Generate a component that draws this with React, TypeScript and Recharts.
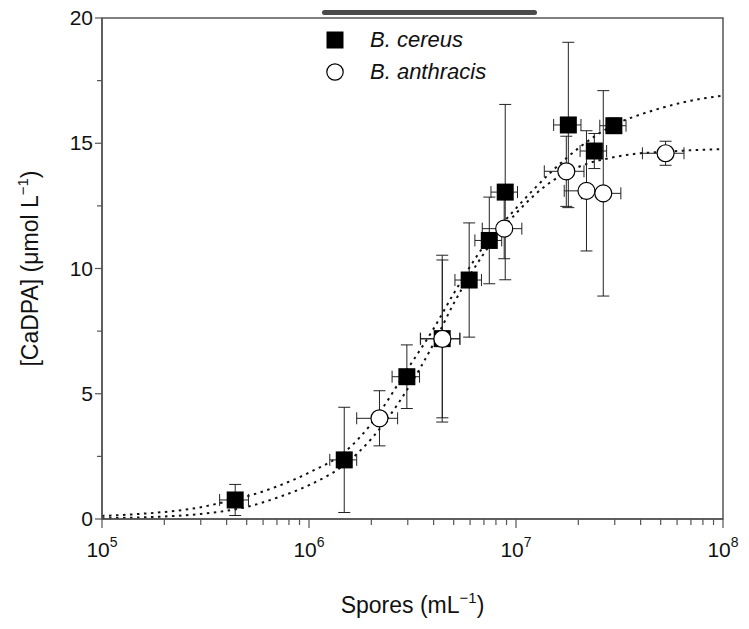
import React from 'react';
import {
  ComposedChart,
  Scatter,
  Line,
  XAxis,
  YAxis,
  ErrorBar,
  ReferenceArea,
  Legend,
} from 'recharts';

// B. cereus (filled squares)
const cereusX = [4.4e5, 1.48e6, 2.97e6, 4.4e6, 5.94e6, 7.43e6, 8.87e6, 1.79e7, 2.39e7, 2.97e7];
const cereusY = [0.76, 2.36, 5.68, 7.2, 9.54, 11.12, 13.05, 15.73, 14.69, 15.7];
const cereusXErr = [0.7e5, 0.22e6, 0.45e6, 0.95e6, 0.87e6, 1.1e6, 1.3e6, 0.27e7, 0.35e7, 0.43e7];
const cereusYErr = [0.62, 2.1, 1.27, 3.33, 2.28, 1.73, 3.5, 3.3, 0.7, 0.3];

// B. anthracis (open circles)
const anthracisX = [2.19e6, 4.41e6, 8.77e6, 1.75e7, 2.19e7, 2.64e7, 5.28e7];
const anthracisY = [4.02, 7.19, 11.59, 13.88, 13.1, 13.0, 14.6];
const anthracisXErr = [0.49e6, 0.95e6, 1.9e6, 0.38e7, 0.48e7, 0.57e7, 1.2e7];
const anthracisYErr = [1.1, 3.15, 1.2, 1.4, 2.4, 4.1, 0.48];

// fitted curves
const fitX = [
  1e5, 1.5e5, 2e5, 3e5, 4e5, 5e5, 7e5, 1e6, 1.5e6, 2e6, 3e6, 4e6, 5e6, 7e6, 1e7, 1.5e7, 2e7, 3e7,
  4e7, 5e7, 7e7, 1e8,
];
const cereusFit = [
  0.12, 0.2, 0.28, 0.47, 0.7, 0.9, 1.3, 1.85, 2.7, 3.8, 6.0, 7.6, 9.0, 10.9, 12.4, 13.9, 14.8,
  15.75, 16.15, 16.4, 16.7, 16.9,
];
const anthracisFit = [
  0.03, 0.06, 0.1, 0.2, 0.33, 0.48, 0.85, 1.35, 2.2, 3.2, 5.2, 7.0, 8.6, 10.6, 12.2, 13.5, 14.05,
  14.45, 14.6, 14.65, 14.72, 14.77,
];

const majorX = [1e5, 1e6, 1e7, 1e8];
const xTicks = [
  1e5, 2e5, 3e5, 4e5, 5e5, 6e5, 7e5, 8e5, 9e5, 1e6, 2e6, 3e6, 4e6, 5e6, 6e6, 7e6, 8e6, 9e6, 1e7,
  2e7, 3e7, 4e7, 5e7, 6e7, 7e7, 8e7, 9e7, 1e8,
];
const yTicks = [0, 2.5, 5, 7.5, 10, 12.5, 15, 17.5, 20];

const cereusData = cereusX.map((x, i) => ({ x, y: cereusY[i], ex: cereusXErr[i], ey: cereusYErr[i] }));
const anthracisData = anthracisX.map((x, i) => ({
  x,
  y: anthracisY[i],
  ex: anthracisXErr[i],
  ey: anthracisYErr[i],
}));
const cereusLine = fitX.map((x, i) => ({ x, y: cereusFit[i] }));
const anthracisLine = fitX.map((x, i) => ({ x, y: anthracisFit[i] }));

const AXIS = '#555';
const FONT = '"Liberation Sans", Arial, sans-serif';

function XTick(props: any) {
  const { x, y, payload } = props;
  const major = majorX.includes(payload.value);
  const exp = Math.round(Math.log10(payload.value));
  return (
    <g>
      <line x1={x} x2={x} y1={y} y2={y + (major ? 9 : 6)} stroke={AXIS} strokeWidth={1.2} />
      {major && (
        <text x={x} y={y + 38} textAnchor="middle" fontSize={21} fill="#111" fontFamily={FONT}>
          <tspan>10</tspan>
          <tspan dy={-10} fontSize={14}>
            {exp}
          </tspan>
        </text>
      )}
    </g>
  );
}

function YTick(props: any) {
  const { x, y, payload } = props;
  const major = payload.value % 5 === 0;
  return (
    <g>
      <line x1={x} x2={x - (major ? 7 : 5)} y1={y} y2={y} stroke={AXIS} strokeWidth={1.2} />
      {major && (
        <text x={x - 9} y={y} dy={7} textAnchor="end" fontSize={21} fill="#111" fontFamily={FONT}>
          {payload.value}
        </text>
      )}
    </g>
  );
}

function SquareShape(props: any) {
  const { cx, cy } = props;
  return <rect x={cx - 8.5} y={cy - 8.5} width={17} height={17} fill="#000" />;
}

function CircleShape(props: any) {
  const { cx, cy } = props;
  return <circle cx={cx} cy={cy} r={8.5} fill="#fff" stroke="#000" strokeWidth={1.2} />;
}

function LegendBox() {
  const row = { display: 'flex', alignItems: 'center', height: 32 } as const;
  const text = { marginLeft: 26, fontSize: 22, fontStyle: 'italic', color: '#111', fontFamily: FONT };
  return (
    <div>
      <div style={row}>
        <svg width={18} height={18}>
          <rect x={0.5} y={0.5} width={17} height={17} fill="#000" />
        </svg>
        <span style={text}>B. cereus</span>
      </div>
      <div style={row}>
        <svg width={18} height={18}>
          <circle cx={9} cy={9} r={8.2} fill="#fff" stroke="#000" strokeWidth={1.2} />
        </svg>
        <span style={text}>B. anthracis</span>
      </div>
    </div>
  );
}

export default function App() {
  return (
    <div style={{ position: 'relative', width: 741, height: 621, fontFamily: FONT }}>
      <div
        style={{
          position: 'absolute',
          left: 314,
          top: 2,
          width: 215,
          height: 5,
          borderRadius: 3,
          background: '#4a4a4a',
        }}
      />
      <ComposedChart
        width={741}
        height={621}
        margin={{ top: 10, right: 26, left: 0, bottom: 0 }}
        style={{ overflow: 'visible' }}
      >
        <XAxis
          dataKey="x"
          type="number"
          scale="log"
          domain={[1e5, 1e8]}
          ticks={xTicks}
          interval={0}
          height={110}
          tickSize={0}
          tickMargin={0}
          tickLine={false}
          tick={<XTick />}
          axisLine={{ stroke: AXIS, strokeWidth: 1.5 }}
          label={{
            content: (p: any) => {
              const vb = p.viewBox;
              return (
                <text
                  x={vb.x + vb.width / 2}
                  y={vb.y + 94}
                  textAnchor="middle"
                  fontSize={23}
                  fill="#111"
                  fontFamily={FONT}
                >
                  Spores (mL
                  <tspan dy={-10} fontSize={15}>
                    −1
                  </tspan>
                  <tspan dy={10}>)</tspan>
                </text>
              );
            },
          }}
        />
        <YAxis
          dataKey="y"
          type="number"
          domain={[0, 20]}
          ticks={yTicks}
          interval={0}
          width={94}
          tickSize={0}
          tickMargin={0}
          tickLine={false}
          tick={<YTick />}
          axisLine={{ stroke: AXIS, strokeWidth: 1.5 }}
          label={{
            content: (p: any) => {
              const vb = p.viewBox;
              const cx = vb.x + 30;
              const cy = vb.y + vb.height / 2;
              return (
                <text
                  x={cx}
                  y={cy}
                  transform={`rotate(-90 ${cx} ${cy})`}
                  textAnchor="middle"
                  fontSize={23}
                  fill="#111"
                  fontFamily={FONT}
                >
                  [CaDPA] (μmol L
                  <tspan dy={-10} fontSize={15}>
                    −1
                  </tspan>
                  <tspan dy={10}>)</tspan>
                </text>
              );
            },
          }}
        />
        <ReferenceArea x1={1e5} x2={1e8} y1={0} y2={20} fill="none" stroke={AXIS} strokeWidth={1.5} />
        <Legend
          layout="horizontal"
          verticalAlign="middle"
          align="center"
          content={() => <LegendBox />}
          wrapperStyle={{ left: 318, top: 16, width: 220 }}
        />
        <Line
          data={cereusLine}
          dataKey="y"
          type="monotone"
          stroke="#111"
          strokeWidth={2}
          strokeDasharray="2.5 4.5"
          dot={false}
          legendType="none"
          isAnimationActive={false}
        />
        <Line
          data={anthracisLine}
          dataKey="y"
          type="monotone"
          stroke="#111"
          strokeWidth={2}
          strokeDasharray="2.5 4.5"
          dot={false}
          legendType="none"
          isAnimationActive={false}
        />
        <Scatter data={cereusData} dataKey="y" shape={<SquareShape />} isAnimationActive={false}>
          <ErrorBar dataKey="ex" direction="x" width={6} stroke="#222" strokeWidth={1} />
          <ErrorBar dataKey="ey" direction="y" width={6} stroke="#222" strokeWidth={1} />
        </Scatter>
        <Scatter data={anthracisData} dataKey="y" shape={<CircleShape />} isAnimationActive={false}>
          <ErrorBar dataKey="ex" direction="x" width={6} stroke="#222" strokeWidth={1} />
          <ErrorBar dataKey="ey" direction="y" width={6} stroke="#222" strokeWidth={1} />
        </Scatter>
      </ComposedChart>
    </div>
  );
}
